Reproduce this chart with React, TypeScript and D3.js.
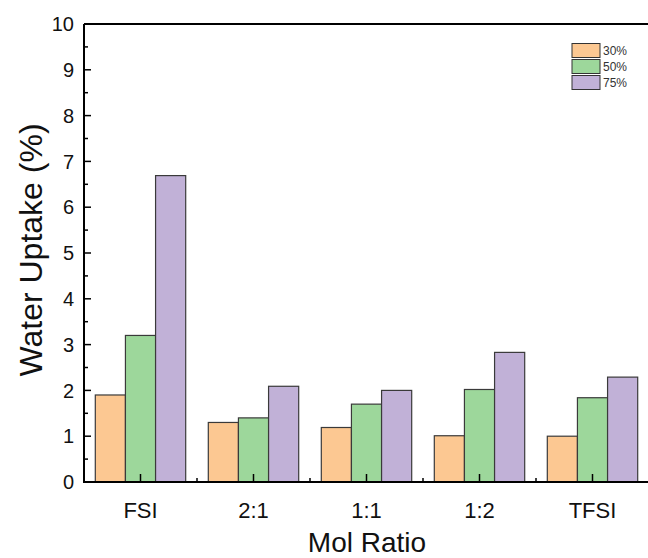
import React, { useEffect, useRef } from "react";
import * as d3 from "d3";

// mol ratio groups and water uptake (%) for each humidity level
const categories = ["FSI", "2:1", "1:1", "1:2", "TFSI"];
const seriesNames = ["30%", "50%", "75%"];
const rh30 = [1.9, 1.3, 1.19, 1.01, 1.0];
const rh50 = [3.2, 1.4, 1.7, 2.02, 1.84];
const rh75 = [6.69, 2.09, 2.0, 2.83, 2.29];
const yTicks = [0, 1, 2, 3, 4, 5, 6, 7, 8, 9, 10];
const colors = ["#FCC892", "#9DD79B", "#C1B1D7"];

const W = 648;
const H = 558;
const margin = { top: 24, right: -1, bottom: 76, left: 84 };
const font = "'Liberation Sans', Arial, sans-serif";

function App() {
    const ref = useRef<SVGSVGElement>(null);

    useEffect(() => {
        const svg = d3.select(ref.current);
        svg.selectAll("*").remove();

        const values = [rh30, rh50, rh75];
        const rows = categories.map((c, i) => ({
            cat: c,
            vals: seriesNames.map((s, j) => ({ name: s, value: values[j][i], color: colors[j] })),
        }));

        const x0 = d3
            .scaleBand()
            .domain(categories)
            .range([margin.left, W - margin.right])
            .paddingInner(0.2)
            .paddingOuter(0.1);
        const x1 = d3.scaleBand().domain(seriesNames).range([0, x0.bandwidth()]);
        const y = d3
            .scaleLinear()
            .domain([0, 10])
            .range([H - margin.bottom, margin.top]);

        // bars
        const groups = svg
            .append("g")
            .selectAll("g")
            .data(rows)
            .join("g")
            .attr("transform", (d) => `translate(${x0(d.cat)},0)`);
        groups
            .selectAll("rect")
            .data((d) => d.vals)
            .join("rect")
            .attr("x", (d) => x1(d.name)!)
            .attr("y", (d) => y(d.value))
            .attr("width", x1.bandwidth())
            .attr("height", (d) => y(0) - y(d.value))
            .attr("fill", (d) => d.color)
            .attr("stroke", "#3a3a3a")
            .attr("stroke-width", 1.2);

        // y axis, ticks pointing inward
        const yAxis = svg.append("g");
        yAxis
            .append("line")
            .attr("x1", margin.left)
            .attr("x2", margin.left)
            .attr("y1", y(10))
            .attr("y2", y(0))
            .attr("stroke", "#000")
            .attr("stroke-width", 2);
        yAxis
            .selectAll(".major")
            .data(yTicks)
            .join("line")
            .attr("x1", margin.left)
            .attr("x2", margin.left + 7)
            .attr("y1", (d) => y(d))
            .attr("y2", (d) => y(d))
            .attr("stroke", "#000")
            .attr("stroke-width", 1.5);
        yAxis
            .selectAll(".minor")
            .data(yTicks.slice(0, -1).map((d) => d + 0.5))
            .join("line")
            .attr("x1", margin.left)
            .attr("x2", margin.left + 4)
            .attr("y1", (d) => y(d))
            .attr("y2", (d) => y(d))
            .attr("stroke", "#000")
            .attr("stroke-width", 1.5);
        yAxis
            .selectAll("text")
            .data(yTicks)
            .join("text")
            .attr("x", margin.left - 10)
            .attr("y", (d) => y(d))
            .attr("dy", "0.36em")
            .attr("text-anchor", "end")
            .attr("font-family", font)
            .attr("font-size", 20)
            .attr("fill", "#111")
            .text((d) => d);

        // top border
        svg.append("line")
            .attr("x1", margin.left)
            .attr("x2", W)
            .attr("y1", y(10))
            .attr("y2", y(10))
            .attr("stroke", "#000")
            .attr("stroke-width", 2);

        // x axis
        const xAxis = svg.append("g");
        xAxis
            .append("line")
            .attr("x1", margin.left - 1)
            .attr("x2", W)
            .attr("y1", y(0))
            .attr("y2", y(0))
            .attr("stroke", "#000")
            .attr("stroke-width", 2);
        xAxis
            .selectAll(".major")
            .data(categories)
            .join("line")
            .attr("x1", (d) => x0(d)! + x0.bandwidth() / 2)
            .attr("x2", (d) => x0(d)! + x0.bandwidth() / 2)
            .attr("y1", y(0))
            .attr("y2", y(0) - 8)
            .attr("stroke", "#000")
            .attr("stroke-width", 1.5);
        xAxis
            .selectAll(".minor")
            .data(categories.slice(0, -1))
            .join("line")
            .attr("x1", (d) => x0(d)! + x0.bandwidth() / 2 + x0.step() / 2)
            .attr("x2", (d) => x0(d)! + x0.bandwidth() / 2 + x0.step() / 2)
            .attr("y1", y(0))
            .attr("y2", y(0) - 4)
            .attr("stroke", "#000")
            .attr("stroke-width", 1.5);
        xAxis
            .selectAll("text")
            .data(categories)
            .join("text")
            .attr("x", (d) => x0(d)! + x0.bandwidth() / 2)
            .attr("y", y(0) + 36)
            .attr("text-anchor", "middle")
            .attr("font-family", font)
            .attr("font-size", 22)
            .attr("fill", "#111")
            .text((d) => d);

        // axis titles
        svg.append("text")
            .attr("x", 367)
            .attr("y", 552)
            .attr("text-anchor", "middle")
            .attr("font-family", font)
            .attr("font-size", 28)
            .attr("fill", "#111")
            .text("Mol Ratio");
        svg.append("text")
            .attr("transform", "translate(42,250) rotate(-90)")
            .attr("text-anchor", "middle")
            .attr("font-family", font)
            .attr("font-size", 32)
            .attr("fill", "#111")
            .text("Water Uptake (%)");

        // legend
        const legend = svg
            .append("g")
            .selectAll("g")
            .data(seriesNames)
            .join("g")
            .attr("transform", (d, i) => `translate(572,${43.5 + i * 16})`);
        legend
            .append("rect")
            .attr("width", 28)
            .attr("height", 14)
            .attr("fill", (d, i) => colors[i])
            .attr("stroke", "#333")
            .attr("stroke-width", 1);
        legend
            .append("text")
            .attr("x", 31)
            .attr("y", 7)
            .attr("dy", "0.36em")
            .attr("font-family", font)
            .attr("font-size", 12)
            .attr("fill", "#333")
            .text((d) => d);
    }, []);

    return (
        <svg
            ref={ref}
            width={W}
            height={H}
            style={{ position: "absolute", left: 0, top: 0, background: "#fff" }}
        ></svg>
    );
}

export default App;
